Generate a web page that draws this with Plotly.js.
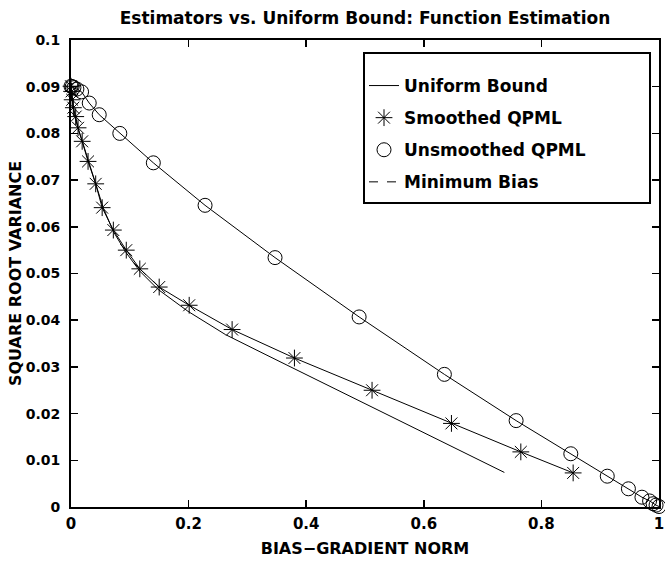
<!DOCTYPE html>
<html>
<head>
<meta charset="utf-8">
<script src="https://cdn.plot.ly/plotly-3.0.1.min.js"></script>
<style>html,body{margin:0;padding:0;background:#fff;}#chart{width:665px;height:562px;}</style>
</head>
<body>
<div id="chart"></div>
<script>
// Uniform Bound (solid line)
var uniformX = [0, 0.002, 0.006, 0.012, 0.020, 0.030, 0.042, 0.055, 0.072, 0.093, 0.117, 0.148, 0.199, 0.263, 0.330, 0.409, 0.522, 0.590, 0.660, 0.737];
var uniformY = [0.0901, 0.0870, 0.0840, 0.0810, 0.0780, 0.0740, 0.0692, 0.0640, 0.0590, 0.0546, 0.0505, 0.0466, 0.0419, 0.0369, 0.0327, 0.0278, 0.0207, 0.0165, 0.0122, 0.0074];

// Smoothed QPML (asterisks)
var smoothX = [0, 0.001, 0.002, 0.004, 0.008, 0.012, 0.019, 0.029, 0.042, 0.053, 0.072, 0.094, 0.117, 0.150, 0.201, 0.274, 0.380, 0.512, 0.647, 0.765, 0.854];
var smoothY = [0.0901, 0.0890, 0.0872, 0.0855, 0.0836, 0.0812, 0.0783, 0.0740, 0.0692, 0.0641, 0.0593, 0.0550, 0.0510, 0.0471, 0.0432, 0.0380, 0.0319, 0.0250, 0.0179, 0.0118, 0.0073];

// Unsmoothed QPML (circles)
var unsmX = [0, 0.002, 0.005, 0.010, 0.018, 0.031, 0.048, 0.083, 0.140, 0.228, 0.347, 0.490, 0.635, 0.757, 0.850, 0.912, 0.948, 0.971, 0.984, 0.990, 0.995, 1.0];
var unsmY = [0.0901, 0.0900, 0.0898, 0.0895, 0.0889, 0.0865, 0.0840, 0.0800, 0.0737, 0.0646, 0.0534, 0.0407, 0.0284, 0.0185, 0.0114, 0.0066, 0.0039, 0.0021, 0.0013, 0.0007, 0.0004, 0.0001];

// Minimum Bias (dashed, collapsed near the start point)
var minBiasX = [0, 0.001];
var minBiasY = [0.0901, 0.0900];

var names = ['Uniform Bound', 'Smoothed QPML', 'Unsmoothed QPML', 'Minimum Bias'];

var FONT = 'DejaVu Sans, Arial, sans-serif';

var traces = [
  {x: uniformX, y: uniformY, mode: 'lines', name: names[0], legendgroup: 'g1',
   line: {color: '#000', width: 1}},
  {x: smoothX, y: smoothY, mode: 'lines', showlegend: false, legendgroup: 'g2',
   line: {color: '#000', width: 1}, hoverinfo: 'skip'},
  {x: smoothX, y: smoothY, mode: 'markers', name: names[1], legendgroup: 'g2', cliponaxis: false,
   marker: {symbol: 'asterisk-open', size: 14, color: '#000', line: {color: '#000', width: 1}}},
  {x: unsmX, y: unsmY, mode: 'lines', showlegend: false, legendgroup: 'g3',
   line: {color: '#000', width: 1}, hoverinfo: 'skip'},
  {x: unsmX, y: unsmY, mode: 'markers', name: names[2], legendgroup: 'g3', cliponaxis: false,
   marker: {symbol: 'circle-open', size: 14, color: '#000', line: {color: '#000', width: 1}}},
  {x: minBiasX, y: minBiasY, mode: 'lines', name: names[3], legendgroup: 'g4',
   line: {color: '#000', width: 1, dash: 'dash'}}
];

var L = 71, R = 6, T = 40, B = 55;
var PW = 665 - L - R, PH = 562 - T - B;

var layout = {
  width: 665, height: 562,
  margin: {l: L, r: R, t: T, b: B},
  paper_bgcolor: '#fff', plot_bgcolor: '#fff',
  font: {family: FONT, size: 14, color: '#000', weight: 'bold'},
  showlegend: true,
  title: {text: 'Estimators vs. Uniform Bound: Function Estimation',
          font: {family: FONT, size: 17, color: '#000', weight: 'bold'},
          x: 0.5, xref: 'paper', xanchor: 'center', y: 1 - 18/562, yref: 'container', yanchor: 'middle'},
  xaxis: {
    range: [0, 1], dtick: 0.2, tick0: 0, showgrid: false, zeroline: false,
    showline: true, linecolor: '#000', linewidth: 2, mirror: 'ticks',
    ticks: 'inside', ticklen: 7, tickwidth: 1.5, tickcolor: '#000',
    tickfont: {family: FONT, size: 15, weight: 'bold'}, ticklabelstandoff: 2,
    ticklabeloverflow: 'allow',
    title: {text: 'BIAS\u2212GRADIENT NORM', font: {family: FONT, size: 16, weight: 'bold'}, standoff: 11}
  },
  yaxis: {
    range: [0, 0.1], dtick: 0.01, tick0: 0, showgrid: false, zeroline: false,
    showline: true, linecolor: '#000', linewidth: 2, mirror: 'ticks',
    ticks: 'inside', ticklen: 7, tickwidth: 1.5, tickcolor: '#000',
    tickfont: {family: FONT, size: 14, weight: 'bold'}, ticklabelstandoff: 6,
    ticklabeloverflow: 'allow',
    title: {text: 'SQUARE ROOT VARIANCE', font: {family: FONT, size: 16, weight: 'bold'}, standoff: 0}
  },
  legend: {
    x: (364 - L) / PW, y: (T + PH - 68) / PH, xanchor: 'left', yanchor: 'top',
    bgcolor: 'rgba(0,0,0,0)', borderwidth: 0,
    traceorder: 'grouped', tracegroupgap: 7,
    font: {family: FONT, size: 17, color: '#000', weight: 'bold'}
  },
  shapes: [{
    type: 'rect', xref: 'paper', yref: 'paper',
    x0: (364 - L) / PW, x1: (650 - L) / PW,
    y0: (T + PH - 203) / PH, y1: (T + PH - 53) / PH,
    line: {color: '#000', width: 2}, fillcolor: 'rgba(255,255,255,1)', layer: 'above'
  }]
};

Plotly.newPlot('chart', traces, layout, {displayModeBar: false, staticPlot: true});
</script>
</body>
</html>
